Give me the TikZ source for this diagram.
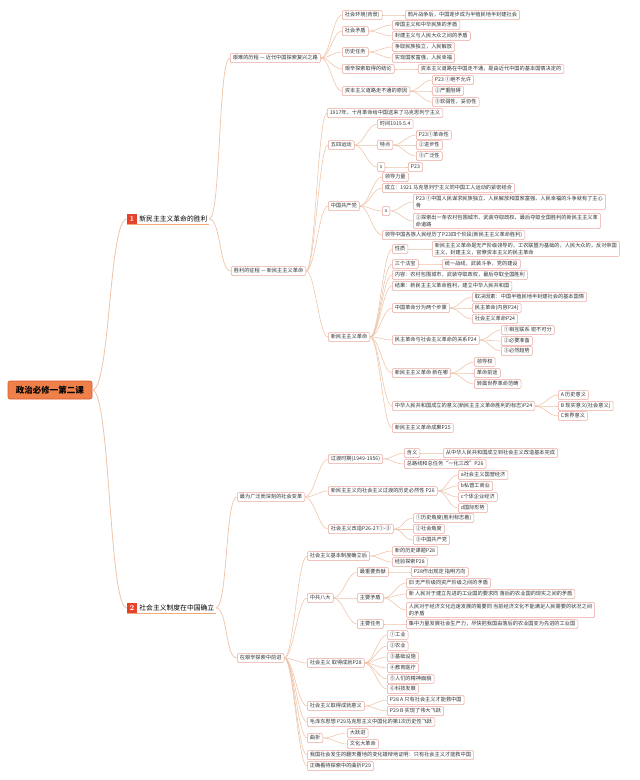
\documentclass[tikz,border=0pt]{standalone}
\usepackage{fontspec}
\newfontfamily\cjk{Noto Sans CJK SC}
\definecolor{nbd}{HTML}{EBA59C}
\definecolor{lnc}{HTML}{EFC4A8}
\definecolor{tx}{HTML}{333333}
\definecolor{rootc}{HTML}{F0804A}
\definecolor{rootbd}{HTML}{D8582C}
\definecolor{numc}{HTML}{E5432B}
\definecolor{ulc}{HTML}{F2A878}
\begin{document}
\begin{tikzpicture}[x=1pt,y=-1pt,
  leaf/.style={draw=nbd, fill=white, rounded corners=1.2pt, line width=0.5pt,
    inner xsep=2.6pt, inner ysep=1.8pt, text height=4.3pt, text depth=1.1pt,
    font=\cjk\fontsize{5.2}{6.5}\selectfont, text=tx, anchor=west},
  leafm/.style={draw=nbd, fill=white, rounded corners=1.2pt, line width=0.5pt,
    inner xsep=2.6pt, inner ysep=1.8pt, align=left,
    font=\cjk\fontsize{5.2}{6.6}\selectfont, text=tx, anchor=west},
  conn/.style={draw=lnc, line width=0.55pt},
  rootnode/.style={fill=rootc, draw=rootbd, line width=0.6pt, rounded corners=2pt,
    font=\cjk\bfseries\fontsize{8.5}{10}\selectfont, text=black,
    minimum width=84pt, minimum height=18pt},
  numbox/.style={fill=numc, text=white, font=\bfseries\fontsize{7.5}{8}\selectfont,
    minimum width=10pt, minimum height=11pt, inner sep=0pt},
  btext/.style={font=\cjk\fontsize{6.8}{8}\selectfont, text=black, anchor=west,
    inner xsep=1.5pt, inner ysep=1.5pt}
]
\useasboundingbox[fill=white] (0,0) rectangle (640,780);

% root and main branches
\node[rootnode] (root) at (50,390) {政治必修一第二课};
\node[numbox] (n1) at (132,219) {1};
\node[btext] (b1) at ([xshift=0.5pt]n1.east) {新民主主义革命的胜利};
\node[numbox] (n2) at (132,608) {2};
\node[btext] (b2) at ([xshift=0.5pt]n2.east) {社会主义制度在中国确立};
\draw[ulc, line width=0.8pt] (n1.south west) -- (b1.south east |- n1.south);
\draw[ulc, line width=0.8pt] (n2.south west) -- (b2.south east |- n2.south);

% branch 1
\node[leaf] (A) at (230,58) {艰难的历程 — 近代中国探索复兴之路};
\node[leaf] (A1) at (342,15) {社会环境(背景)};
\node[leaf] (A1a) at (405,15) {鸦片战争后，中国逐步成为半殖民地半封建社会};
\node[leaf] (A2) at (342,31) {社会矛盾};
\node[leaf] (A2a) at (392,25) {帝国主义和中华民族的矛盾};
\node[leaf] (A2b) at (392,36) {封建主义与人民大众之间的矛盾};
\node[leaf] (A3) at (342,52) {历史任务};
\node[leaf] (A3a) at (392,47) {争取民族独立，人民解放};
\node[leaf] (A3b) at (392,58) {实现国家富强，人民幸福};
\node[leaf] (A4) at (342,69) {艰辛探索取得的结论};
\node[leaf] (A4a) at (418,69) {资本主义道路在中国走不通，是由近代中国的基本国情决定的};
\node[leaf] (A5) at (342,91) {资本主义道路走不通的原因};
\node[leaf] (A5a) at (432,80) {P23 ①绝不允许};
\node[leaf] (A5b) at (432,91) {②严重阻碍};
\node[leaf] (A5c) at (432,102) {③软弱性，妥协性};

\node[leaf] (B) at (231,271) {胜利的征程 — 新民主主义革命};
\node[leaf] (B1) at (327,113) {1917年，十月革命给中国送来了马克思列宁主义};
\node[leaf] (B2) at (328,145) {五四运动};
\node[leaf] (B2a) at (377,124) {时间1919.5.4};
\node[leaf] (B2b) at (377,145) {特点};
\node[leaf] (B2b1) at (416,135) {P23①革命性};
\node[leaf] (B2b2) at (416,145) {②进步性};
\node[leaf] (B2b3) at (416,156) {③广泛性};
\node[leaf] (B2c) at (377,167) {s};
\node[leaf] (B2c1) at (408,167) {P23};
\node[leaf] (B3) at (328,206) {中国共产党};
\node[leaf] (B3a) at (382,177) {领导力量};
\node[leaf] (B3b) at (382,188) {成立：1921 马克思列宁主义同中国工人运动的紧密结合};
\node[leaf] (B3c) at (382,211) {s};
\node[leafm] (B3c1) at (413,202) {P23 ①中国人民谋求民族独立、人民解放和国家富强、人民幸福的斗争就有了主心\\骨};
\node[leafm] (B3c2) at (413,221) {②探索出一条农村包围城市、武装夺取政权、最后夺取全国胜利的新民主主义革\\命道路};
\node[leaf] (B3d) at (382,235) {领导中国各族人民经历了P23四个阶段(新民主主义革命胜利)};
\node[leaf] (B4) at (328,337) {新民主主义革命};
\node[leaf] (B4a) at (392,249) {性质};
\node[leafm] (B4a1) at (432,249) {新民主主义革命是无产阶级领导的，工农联盟为基础的，人民大众的，反对帝国\\主义，封建主义，官僚资本主义的民主革命};
\node[leaf] (B4b) at (392,264) {三个法宝};
\node[leaf] (B4b1) at (442,264) {统一战线，武装斗争，党的建设};
\node[leaf] (B4c) at (392,275) {内容：农村包围城市，武装夺取政权，最后夺取全国胜利};
\node[leaf] (B4d) at (392,286) {结果：新民主主义革命胜利，建立中华人民共和国};
\node[leaf] (B4e) at (392,308) {中国革命分为两个步骤};
\node[leaf] (B4e1) at (472,297) {取决因素：中国半殖民地半封建社会的基本国情};
\node[leaf] (B4e2) at (472,308) {民主革命(内容P24)};
\node[leaf] (B4e3) at (472,319) {社会主义革命P24};
\node[leaf] (B4f) at (392,340) {民主革命与社会主义革命的关系P24};
\node[leaf] (B4f1) at (501,330) {①相互联系 密不可分};
\node[leaf] (B4f2) at (501,341) {②必要准备};
\node[leaf] (B4f3) at (501,351) {③必然趋势};
\node[leaf] (B4g) at (392,373) {新民主主义革命 新在哪};
\node[leaf] (B4g1) at (474,362) {领导权};
\node[leaf] (B4g2) at (474,373) {革命前途};
\node[leaf] (B4g3) at (474,384) {转属世界革命范畴};
\node[leaf] (B4h) at (392,406) {中华人民共和国成立的意义(新民主主义革命胜利的标志)P24};
\node[leaf] (B4h1) at (558,395) {A 历史意义};
\node[leaf] (B4h2) at (558,406) {B 现实意义(社会意义)};
\node[leaf] (B4h3) at (558,416) {C世界意义};
\node[leaf] (B4i) at (392,428) {新民主主义革命成果P25};

% branch 2
\node[leaf] (C) at (237,497) {最为广泛而深刻的社会变革};
\node[leaf] (C1) at (328,459) {过渡时期(1949-1956)};
\node[leaf] (C1a) at (404,453) {含义};
\node[leaf] (C1a1) at (443,453) {从中华人民共和国成立到社会主义改造基本完成};
\node[leaf] (C1b) at (404,464) {总路线和总任务“一化三改”P26};
\node[leaf] (C2) at (328,491) {新民主主义向社会主义过渡的历史必然性 P26};
\node[leaf] (C2a) at (458,475) {a社会主义国营经济};
\node[leaf] (C2b) at (458,486) {b私营工商业};
\node[leaf] (C2c) at (458,497) {c个体企业经济};
\node[leaf] (C2d) at (458,508) {d国际形势};
\node[leaf] (C3) at (328,529) {社会主义改造P26-27①-③};
\node[leaf] (C3a) at (413,518) {①历史角度(胜利标志着)};
\node[leaf] (C3b) at (413,529) {②社会角度};
\node[leaf] (C3c) at (413,540) {③中国共产党};

\node[leaf] (D) at (237,658) {在艰辛探索中前进};
\node[leaf] (D1) at (307,556) {社会主义基本制度确立后};
\node[leaf] (D1a) at (392,551) {新的历史课题P28};
\node[leaf] (D1b) at (392,562) {经验探索P28};
\node[leaf] (D2) at (307,598) {中共八大};
\node[leaf] (D2a) at (357,572) {最重要贡献};
\node[leaf] (D2a1) at (411,572) {P28作出规定 指明方向};
\node[leaf] (D2b) at (357,598) {主要矛盾};
\node[leaf] (D2b1) at (406,583) {旧 无产阶级同资产阶级之间的矛盾};
\node[leaf] (D2b2) at (406,594) {新 人民对于建立先进的工业国的要求同 落后的农业国的现实之间的矛盾};
\node[leafm] (D2b3) at (406,610) {人民对于经济文化迅速发展的需要同 当前经济文化不能满足人民需要的状况之间\\的矛盾};
\node[leaf] (D2c) at (357,624) {主要任务};
\node[leaf] (D2c1) at (406,624) {集中力量发展社会生产力，尽快把我国由落后的农业国变为先进的工业国};
\node[leaf] (D3) at (307,663) {社会主义 取得成就P28};
\node[leaf] (D3a) at (387,635) {①工业};
\node[leaf] (D3b) at (387,646) {②农业};
\node[leaf] (D3c) at (387,657) {③基础设施};
\node[leaf] (D3d) at (387,668) {④教育医疗};
\node[leaf] (D3e) at (387,679) {⑤人们的精神面貌};
\node[leaf] (D3f) at (387,689) {⑥科技发展};
\node[leaf] (D4) at (307,706) {社会主义取得成就意义};
\node[leaf] (D4a) at (387,700) {P28 A 只有社会主义才能救中国};
\node[leaf] (D4b) at (387,711) {P29 B 实现了伟大飞跃};
\node[leaf] (D5) at (307,722) {毛泽东思想 P29马克思主义中国化的第1次历史性飞跃};
\node[leaf] (D6) at (307,738) {曲折};
\node[leaf] (D6a) at (347,733) {大跃进};
\node[leaf] (D6b) at (347,744) {文化大革命};
\node[leaf] (D7) at (307,755) {我国社会发生的翻天覆地的变化雄辩地证明：只有社会主义才能救中国};
\node[leaf] (D8) at (307,766) {正确看待探索中的曲折P29};

% connectors
\begin{scope}[on background layer/.style={}]
\draw[conn, line width=0.8pt] (root.east) .. controls +(18,0) and +(-18,0) .. (n1.west);
\draw[conn, line width=0.8pt] (root.east) .. controls +(18,0) and +(-18,0) .. (n2.west);
\foreach \p/\c in {b1/A, b1/B, b2/C, b2/D}
  \draw[conn, line width=0.7pt] (\p.east) .. controls +(12,0) and +(-12,0) .. (\c.west);
\foreach \p/\c in {A/A1,A/A2,A/A3,A/A4,A/A5,
  A1/A1a,A2/A2a,A2/A2b,A3/A3a,A3/A3b,A4/A4a,A5/A5a,A5/A5b,A5/A5c,
  B/B1,B/B2,B/B3,B/B4,
  B2/B2a,B2/B2b,B2/B2c,B2b/B2b1,B2b/B2b2,B2b/B2b3,B2c/B2c1,
  B3/B3a,B3/B3b,B3/B3c,B3/B3d,B3c/B3c1,B3c/B3c2,
  B4/B4a,B4/B4b,B4/B4c,B4/B4d,B4/B4e,B4/B4f,B4/B4g,B4/B4h,B4/B4i,
  B4a/B4a1,B4b/B4b1,B4e/B4e1,B4e/B4e2,B4e/B4e3,B4f/B4f1,B4f/B4f2,B4f/B4f3,
  B4g/B4g1,B4g/B4g2,B4g/B4g3,B4h/B4h1,B4h/B4h2,B4h/B4h3,
  C/C1,C/C2,C/C3,C1/C1a,C1/C1b,C1a/C1a1,C2/C2a,C2/C2b,C2/C2c,C2/C2d,
  C3/C3a,C3/C3b,C3/C3c,
  D/D1,D/D2,D/D3,D/D4,D/D5,D/D6,D/D7,D/D8,
  D1/D1a,D1/D1b,D2/D2a,D2/D2b,D2/D2c,D2a/D2a1,D2b/D2b1,D2b/D2b2,D2b/D2b3,D2c/D2c1,
  D3/D3a,D3/D3b,D3/D3c,D3/D3d,D3/D3e,D3/D3f,D4/D4a,D4/D4b,D6/D6a,D6/D6b}
  \draw[conn] (\p.east) .. controls +(9,0) and +(-9,0) .. (\c.west);
\end{scope}
\end{tikzpicture}
\end{document}
